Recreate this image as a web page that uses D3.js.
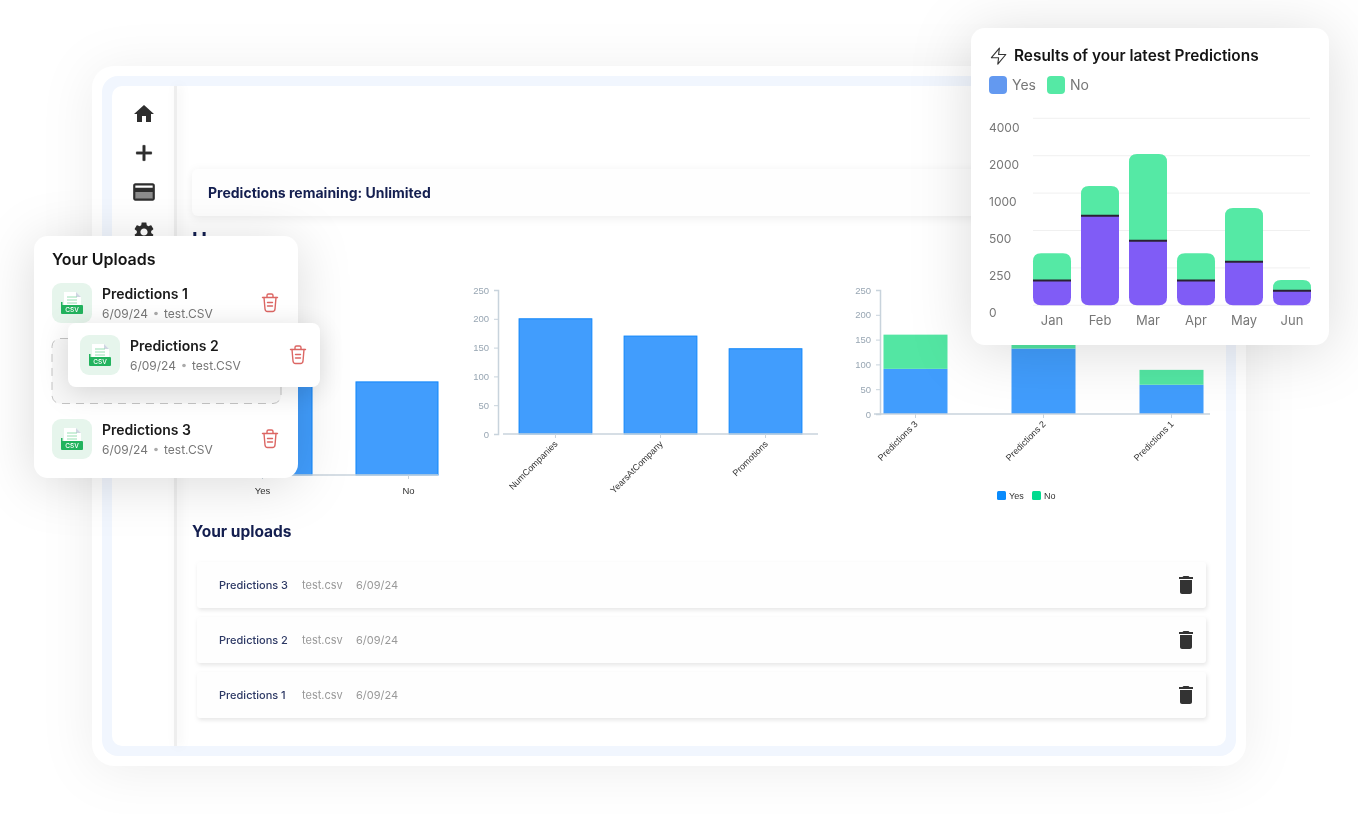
<!DOCTYPE html>
<html>
<head>
<meta charset="utf-8">
<script src="https://cdn.jsdelivr.net/npm/d3@7"></script>
<style>
html, body { margin: 0; padding: 0; background: #fff; overflow: hidden; }
svg { display: block; font-family: Inter, "Noto Sans", sans-serif; }
</style>
</head>
<body>
<svg id="page" width="1358" height="814"></svg>
<script>
// latest predictions card
var months = ["Jan", "Feb", "Mar", "Apr", "May", "Jun"];
var latestYes = [166, 698, 432, 166, 291, 98];
var latestNo = [182, 492, 1660, 182, 509, 71];
var latestTicks = [0, 250, 500, 1000, 2000, 4000];

// charts in the dashboard screenshot
var answerCats = ["Yes", "No"];
var answerVals = [213, 147];
var featureCats = ["NumCompanies", "YearsAtCompany", "Promotions"];
var featureVals = [200, 170, 148];
var featureTicks = [0, 50, 100, 150, 200, 250];
var predCats = ["Predictions 3", "Predictions 2", "Predictions 1"];
var predYes = [91, 132, 59];
var predNo = [69, 48, 30];

// lists
var cardUploads = ["Predictions 1", "Predictions 2", "Predictions 3"];
var rowUploads = ["Predictions 3", "Predictions 2", "Predictions 1"];

var homePath = "M10 20v-6h4v6h5v-8h3L12 3 2 12h3v8z";
var plusPath = "M19 13h-6v6h-2v-6H5v-2h6V5h2v6h6v2z";
var cardPath = "M20 4H4c-1.11 0-1.99.89-1.99 2L2 18c0 1.11.89 2 2 2h16c1.11 0 2-.89 2-2V6c0-1.11-.89-2-2-2zm0 14H4v-6h16v6zm0-10H4V6h16v2z";
var gearPath = "M19.14 12.94c.04-.3.06-.61.06-.94 0-.32-.02-.64-.07-.94l2.03-1.58c.18-.14.23-.41.12-.61l-1.92-3.32c-.12-.22-.37-.29-.59-.22l-2.39.96c-.5-.38-1.03-.7-1.62-.94l-.36-2.54c-.04-.24-.24-.41-.48-.41h-3.84c-.24 0-.43.17-.47.41l-.36 2.54c-.59.24-1.13.57-1.62.94l-2.39-.96c-.22-.08-.47 0-.59.22L2.74 8.87c-.12.21-.08.47.12.61l2.03 1.58c-.05.3-.09.63-.09.94s.02.64.07.94l-2.03 1.58c-.18.14-.23.41-.12.61l1.92 3.32c.12.22.37.29.59.22l2.39-.96c.5.38 1.03.7 1.62.94l.36 2.54c.05.24.24.41.48.41h3.84c.24 0 .44-.17.47-.41l.36-2.54c.59-.24 1.13-.56 1.62-.94l2.39.96c.22.08.47 0 .59-.22l1.92-3.32c.12-.22.07-.47-.12-.61l-2.01-1.58zM12 15.6c-1.98 0-3.6-1.62-3.6-3.6s1.62-3.6 3.6-3.6 3.6 1.62 3.6 3.6-1.62 3.6-3.6 3.6z";
var binPath = "M6 19c0 1.1.9 2 2 2h8c1.1 0 2-.9 2-2V7H6v12zM19 4h-3.5l-1-1h-5l-1 1H5v2h14V4z";

var svg = d3.select("#page");

function box(parent, x, y, w, h, r, fill, shadow) {
    var b = parent.append("rect").attr("x", x).attr("y", y).attr("width", w).attr("height", h).attr("rx", r).attr("fill", fill);
    if (shadow) b.style("filter", shadow);
    return b;
}

function label(parent, x, y, str, size, weight, color, anchor) {
    return parent.append("text").attr("x", x).attr("y", y).text(str)
        .attr("font-size", size).attr("font-weight", weight).attr("fill", color).attr("text-anchor", anchor || "start");
}

function icon(parent, path, cx, cy, size, color) {
    var k = size / 24;
    return parent.append("path").attr("d", path).attr("fill", color)
        .attr("transform", "translate(" + (cx - 12 * k) + "," + (cy - 12 * k) + ") scale(" + k + ")");
}

// frame
box(svg, 92, 66, 1154, 700, 22, "#fff", "drop-shadow(0 4px 26px rgba(0,0,0,.07))");
box(svg, 102, 76, 1134, 680, 16, "#f1f6fe");
box(svg, 112, 86, 1114, 660, 10, "#fff");

// everything in here is a soft screenshot behind the cards
var shot = svg.append("g").style("filter", "blur(0.6px)");

// sidebar
shot.append("rect").attr("x", 174).attr("y", 86).attr("width", 3).attr("height", 660).attr("fill", "#eeeeee").style("filter", "drop-shadow(3px 0 5px rgba(0,0,0,.08))");
icon(shot, homePath, 144, 114, 24, "#2e2e2e");
icon(shot, plusPath, 144, 153, 26, "#2e2e2e").attr("stroke", "#2e2e2e").attr("stroke-width", 0.7);
box(shot, 135, 190, 18, 9, 1, "#8c8c8c");
icon(shot, cardPath, 144, 192, 26, "#2e2e2e");
icon(shot, gearPath, 144, 232, 24, "#2e2e2e");

// top banner
box(shot, 192, 169, 830, 47, 6, "#fefefe", "drop-shadow(0 2px 5px rgba(0,0,0,.07))");
label(shot, 208, 198, "Predictions remaining: Unlimited", 14, 700, "#141f50");
label(shot, 192, 247, "Home", 20, 700, "#141f50");

// answers chart, the ticks sit wider than the bars in the stretched screenshot
var answerBar = d3.scaleBand().domain(answerCats).range([230, 438]).paddingInner(0.349).paddingOuter(0);
var answerTick = d3.scalePoint().domain(answerCats).range([262, 408]);
var answerY = d3.scaleLinear().domain([0, 300]).range([475, 285]);

shot.selectAll(".answerBar").data(answerCats).enter().append("rect")
    .attr("x", function(d) { return answerBar(d); })
    .attr("y", function(d, i) { return answerY(answerVals[i]); })
    .attr("width", answerBar.bandwidth())
    .attr("height", function(d, i) { return answerY(0) - answerY(answerVals[i]); })
    .attr("fill", "#419dfd").attr("stroke", "#0f86fb").attr("stroke-width", 1);
shot.append("line").attr("x1", 200).attr("x2", 438).attr("y1", 475).attr("y2", 475).attr("stroke", "#c8d3dc").attr("stroke-width", 1.5);

var answerAxis = shot.append("g").attr("transform", "translate(0,475)").call(d3.axisBottom(answerTick).tickSize(4).tickPadding(8));
answerAxis.select(".domain").remove();
answerAxis.selectAll("line").attr("stroke", "#c8d3dc");
answerAxis.selectAll("text").attr("font-size", 9.5).attr("fill", "#333").attr("font-family", "Liberation Sans");

function styleY(g) {
    g.select(".domain").attr("stroke", "#c8d3dc").attr("stroke-width", 1.5);
    g.selectAll("line").attr("stroke", "#c8d3dc");
    g.selectAll("text").attr("font-size", 9.5).attr("fill", "#98a6b3").attr("font-family", "Liberation Sans");
}

function styleX(g) {
    g.select(".domain").remove();
    g.selectAll("line").attr("stroke", "#c8d3dc");
    g.selectAll("text").attr("font-size", 9).attr("fill", "#333").attr("font-family", "Liberation Sans")
        .attr("text-anchor", "end").attr("dx", "-5.5").attr("dy", "0.5").attr("transform", "rotate(-45)");
}

// feature chart
var featureX = d3.scaleBand().domain(featureCats).range([503, 818]).paddingInner(0.307).paddingOuter(0.153);
var featureY = d3.scaleLinear().domain([0, 250]).range([434, 290]);

shot.selectAll(".featureBar").data(featureCats).enter().append("rect")
    .attr("x", function(d) { return featureX(d); })
    .attr("y", function(d, i) { return featureY(featureVals[i]); })
    .attr("width", featureX.bandwidth())
    .attr("height", function(d, i) { return featureY(0) - featureY(featureVals[i]); })
    .attr("fill", "#419dfd").attr("stroke", "#0f86fb").attr("stroke-width", 1);
shot.append("line").attr("x1", 503).attr("x2", 818).attr("y1", 434).attr("y2", 434).attr("stroke", "#c8d3dc").attr("stroke-width", 1.5);
shot.append("g").attr("transform", "translate(498,0)")
    .call(d3.axisLeft(featureY).tickValues(featureTicks).tickSize(4).tickPadding(5)).call(styleY);
shot.append("g").attr("transform", "translate(0,434)")
    .call(d3.axisBottom(featureX).tickSize(4).tickPadding(5)).call(styleX);

// stacked predictions chart
var predX = d3.scaleBand().domain(predCats).range([878.5, 1208.5]).paddingInner(0.5).paddingOuter(0.039);
var predY = d3.scaleLinear().domain([0, 250]).range([414, 290]);

shot.selectAll(".predYes").data(predCats).enter().append("rect")
    .attr("x", function(d) { return predX(d); })
    .attr("y", function(d, i) { return predY(predYes[i]); })
    .attr("width", predX.bandwidth())
    .attr("height", function(d, i) { return predY(0) - predY(predYes[i]); })
    .attr("fill", "#419dfd");
shot.selectAll(".predNo").data(predCats).enter().append("rect")
    .attr("x", function(d) { return predX(d); })
    .attr("y", function(d, i) { return predY(predYes[i] + predNo[i]); })
    .attr("width", predX.bandwidth())
    .attr("height", function(d, i) { return predY(predYes[i]) - predY(predYes[i] + predNo[i]); })
    .attr("fill", "#53e6a3");
shot.append("line").attr("x1", 874).attr("x2", 1210).attr("y1", 414).attr("y2", 414).attr("stroke", "#c8d3dc").attr("stroke-width", 1.5);
shot.append("g").attr("transform", "translate(880,0)")
    .call(d3.axisLeft(predY).tickValues(featureTicks).tickSize(4).tickPadding(5)).call(styleY);
shot.append("g").attr("transform", "translate(0,414)")
    .call(d3.axisBottom(predX).tickSize(4).tickPadding(5)).call(styleX);

box(shot, 997, 491, 9, 9, 1.5, "#0a8bfc");
label(shot, 1009, 499, "Yes", 9, 400, "#333").attr("font-family", "Liberation Sans");
box(shot, 1032, 491, 9, 9, 1.5, "#00db8f");
label(shot, 1044, 499, "No", 9, 400, "#333").attr("font-family", "Liberation Sans");

// uploads table
label(shot, 192, 536.5, "Your uploads", 15.5, 700, "#141f50");
var rowY = d3.scalePoint().domain(rowUploads).range([562, 672]);
rowUploads.forEach(function(name) {
    var y = rowY(name);
    box(shot, 197, y, 1009, 46, 3, "#fefefe", "drop-shadow(1px 2px 2px rgba(0,0,0,.1))");
    label(shot, 219, y + 27, name, 11, 500, "#2c3864");
    label(shot, 302, y + 27, "test.csv", 11, 400, "#999");
    label(shot, 356, y + 27, "6/09/24", 11, 400, "#999");
    icon(shot, binPath, 1186, y + 23, 24, "#333");
});

function csvIcon(parent, x, y) {
    var g = parent.append("g").attr("transform", "translate(" + x + "," + y + ")");
    box(g, 0, 0, 40, 40, 9, "#e6f5ec");
    g.append("path").attr("d", "M12 9h12l5 5v9H12z").attr("fill", "#fff");
    g.append("path").attr("d", "M24 9l5 5h-5z").attr("fill", "#cfd6e2");
    [14, 17, 20].forEach(function(ly) {
        g.append("line").attr("x1", 15).attr("x2", 25).attr("y1", ly).attr("y2", ly).attr("stroke", "#8ddbab").attr("stroke-width", 0.9);
    });
    box(g, 9, 22, 22, 9, 1, "#22b35e");
    g.append("rect").attr("x", 9).attr("y", 19).attr("width", 1.5).attr("height", 4).attr("fill", "#22b35e");
    label(g, 20, 29, "CSV", 6.5, 500, "#fff", "middle");
}

function redBin(parent, cx, cy) {
    var g = parent.append("g").attr("transform", "translate(" + cx + "," + cy + ")")
        .attr("fill", "none").attr("stroke", "#dc6663").attr("stroke-width", 1.4).attr("stroke-linecap", "round").attr("stroke-linejoin", "round");
    g.append("path").attr("d", "M-7.5 -5.5H7.5M-3 -5.5V-7.5Q-3 -9 -1.5 -9H1.5Q3 -9 3 -7.5V-5.5");
    g.append("path").attr("d", "M-6 -5.5L-5 6Q-4.8 8.5 -2.5 8.5H2.5Q4.8 8.5 5 6L6 -5.5");
    g.append("path").attr("d", "M-2.5 -0.5H2.5M-2.5 3H2.5");
}

function uploadItem(parent, x, y, name) {
    csvIcon(parent, x, y);
    label(parent, x + 50, y + 16, name, 14, 600, "#1a1a1a");
    label(parent, x + 50, y + 35, "6/09/24", 12, 400, "#777");
    parent.append("circle").attr("cx", x + 104).attr("cy", y + 30.5).attr("r", 1.8).attr("fill", "#aaa");
    label(parent, x + 112, y + 35, "test.CSV", 12, 400, "#777");
    redBin(parent, x + 218, y + 20);
}

// uploads card on top of the screenshot
box(svg, 34, 236, 264, 242, 14, "#fff", "drop-shadow(0 6px 26px rgba(0,0,0,.14))");
label(svg, 52, 265, "Your Uploads", 16, 600, "#141414");
uploadItem(svg, 52, 283, cardUploads[0]);
box(svg, 52, 338.5, 229, 65, 8, "#f8f8f8").attr("stroke", "#c4c4c4").attr("stroke-width", 1).attr("stroke-dasharray", "8 6");
uploadItem(svg, 52, 419, cardUploads[2]);
box(svg, 68, 323, 252, 64, 8, "#fff", "drop-shadow(0 5px 14px rgba(0,0,0,.14))");
uploadItem(svg, 80, 335, cardUploads[1]);

// latest predictions card
box(svg, 971, 28, 358, 317, 14, "#fff", "drop-shadow(0 6px 30px rgba(0,0,0,.14))");
svg.append("path").attr("d", "M13 2 3 14h9l-1 8 10-12h-9l1-8z").attr("fill", "none").attr("stroke", "#333").attr("stroke-width", 1.4).attr("stroke-linejoin", "round")
    .attr("transform", "translate(989,46.5) scale(.8)");
label(svg, 1014, 61, "Results of your latest Predictions", 15.4, 600, "#141414");
box(svg, 989, 76, 18, 18, 4, "#6399f0");
label(svg, 1012, 90, "Yes", 14, 400, "#777");
box(svg, 1047, 76, 18, 18, 4, "#55e9a5");
label(svg, 1070, 90, "No", 14, 400, "#777");

var latestX = d3.scaleBand().domain(months).range([1028, 1316]).paddingInner(10 / 48).paddingOuter(5 / 48);
var latestY = d3.scaleLinear().domain(latestTicks).range(latestTicks.map(function(d, i) { return 305.3 - i * 37.4; }));
// the tick labels are evenly spaced but do not sit on the grid lines
var latestLab = d3.scalePoint().domain(latestTicks).range([317, 132]);

svg.selectAll(".grid").data(latestTicks).enter().append("line")
    .attr("x1", 1033).attr("x2", 1310)
    .attr("y1", function(d) { return latestY(d); })
    .attr("y2", function(d) { return latestY(d); })
    .attr("stroke", "#f0f0f0").attr("stroke-width", 1);
svg.selectAll(".ylab").data(latestTicks).enter().append("text")
    .attr("x", 989).attr("y", function(d) { return latestLab(d); })
    .text(function(d) { return d; }).attr("font-size", 12).attr("fill", "#777");
svg.selectAll(".xlab").data(months).enter().append("text")
    .attr("x", function(d) { return latestX(d) + latestX.bandwidth() / 2; }).attr("y", 324.5)
    .attr("text-anchor", "middle").text(function(d) { return d; }).attr("font-size", 13).attr("fill", "#777");

// path for a bar with two rounded corners, at the top or the bottom
function roundBar(x, y0, y1, w, r, top) {
    if (top) {
        return "M" + x + "," + y1 + "V" + (y0 + r) + "Q" + x + "," + y0 + " " + (x + r) + "," + y0 +
            "H" + (x + w - r) + "Q" + (x + w) + "," + y0 + " " + (x + w) + "," + (y0 + r) + "V" + y1 + "Z";
    }
    return "M" + x + "," + y0 + "V" + (y1 - r) + "Q" + x + "," + y1 + " " + (x + r) + "," + y1 +
        "H" + (x + w - r) + "Q" + (x + w) + "," + y1 + " " + (x + w) + "," + (y1 - r) + "V" + y0 + "Z";
}

svg.selectAll(".latestNo").data(months).enter().append("path")
    .attr("d", function(d, i) {
        return roundBar(latestX(d), latestY(latestYes[i] + latestNo[i]), latestY(latestYes[i]), latestX.bandwidth(), 8, true);
    })
    .attr("fill", "#55e9a5");
svg.selectAll(".latestYes").data(months).enter().append("path")
    .attr("d", function(d, i) {
        return roundBar(latestX(d), latestY(latestYes[i]), latestY(0), latestX.bandwidth(), 8, false);
    })
    .attr("fill", "#805cf6");
svg.selectAll(".latestSep").data(months).enter().append("line")
    .attr("x1", function(d) { return latestX(d); })
    .attr("x2", function(d) { return latestX(d) + latestX.bandwidth(); })
    .attr("y1", function(d, i) { return latestY(latestYes[i]); })
    .attr("y2", function(d, i) { return latestY(latestYes[i]); })
    .attr("stroke", "#2a2233").attr("stroke-width", 2);
</script>
</body>
</html>
